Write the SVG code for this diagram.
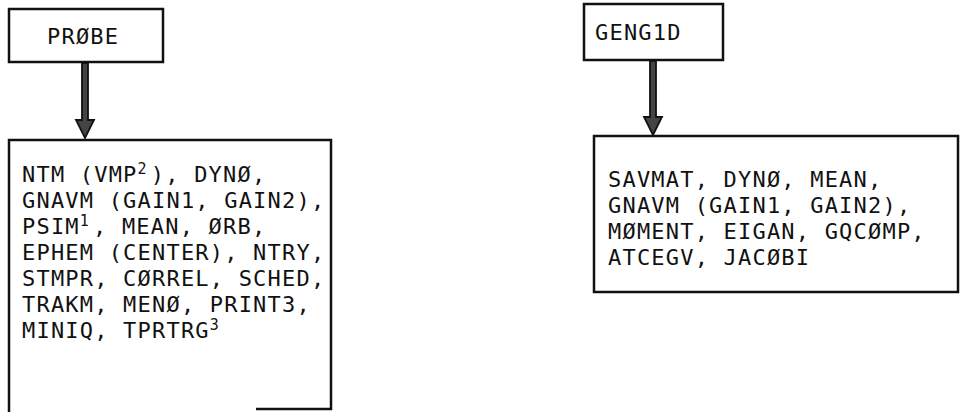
<svg xmlns="http://www.w3.org/2000/svg" width="963" height="412" viewBox="0 0 963 412">
<style>
.box{fill:none;stroke:#111;stroke-width:2.5}
.t{font-family:"DejaVu Sans Mono","Liberation Mono",monospace;font-size:22px;letter-spacing:1.2px;fill:#111}
.sup{font-size:15px}
.arr{fill:#444;stroke:#111;stroke-width:1.8;stroke-linejoin:miter}
</style>
<rect width="963" height="412" fill="#fff"/>
<g id="probe">
<rect class="box" x="9" y="9" width="154" height="53"/>
<text class="t" x="47" y="44">PRØBE</text>
</g>
<g id="probe-calls">
<path class="box" d="M9,412 V140 H331 V409 H256"/>
<text class="t" x="22" y="182">NTM (VMP<tspan class="sup" dy="-8">2</tspan><tspan dy="8" dx="3">), DYNØ,</tspan></text>
<text class="t" x="22" y="208">GNAVM (GAIN1, GAIN2),</text>
<text class="t" x="22" y="234">PSIM<tspan class="sup" dy="-8">1</tspan><tspan dy="8" dx="3">, MEAN, ØRB,</tspan></text>
<text class="t" x="22" y="260">EPHEM (CENTER), NTRY,</text>
<text class="t" x="22" y="286">STMPR, CØRREL, SCHED,</text>
<text class="t" x="22" y="312">TRAKM, MENØ, PRINT3,</text>
<text class="t" x="22" y="338">MINIQ, TPRTRG<tspan class="sup" dy="-8">3</tspan></text>
</g>
<g id="geng1d">
<rect class="box" x="584" y="4" width="139" height="56"/>
<text class="t" x="595" y="40">GENG1D</text>
</g>
<g id="geng1d-calls">
<rect class="box" x="594" y="136" width="364" height="156"/>
<text class="t" x="608" y="187">SAVMAT, DYNØ, MEAN,</text>
<text class="t" x="608" y="213">GNAVM (GAIN1, GAIN2),</text>
<text class="t" x="608" y="239">MØMENT, EIGAN, GQCØMP,</text>
<text class="t" x="608" y="265">ATCEGV, JACØBI</text>
</g>
<g id="connectors">
<polygon class="arr" points="82,63 88,63 88,120 94,120 85,138 76,120 82,120"/>
<polygon class="arr" points="650,61 656,61 656,117 662,117 653,135 644,117 650,117"/>
</g>
</svg>
